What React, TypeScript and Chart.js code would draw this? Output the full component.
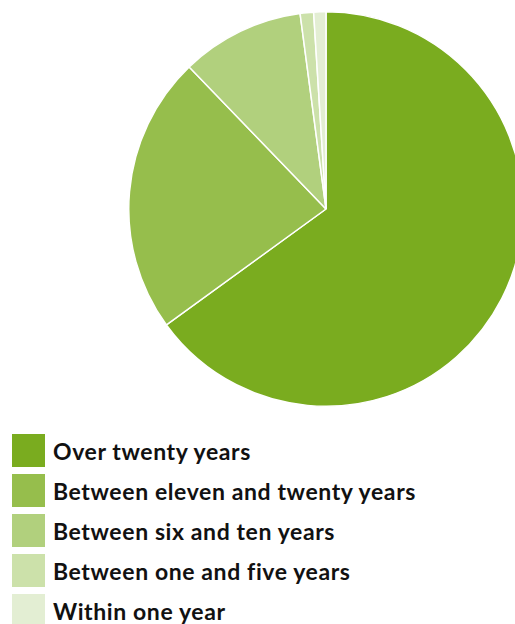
import React, { useEffect, useRef } from "react";
import { Chart, registerables } from "chart.js";

Chart.register(...registerables);

const categories = [
  "Over twenty years",
  "Between eleven and twenty years",
  "Between six and ten years",
  "Between one and five years",
  "Within one year",
];
const shares = [65.0, 22.8, 10.1, 1.1, 1.0];
const colors = ["#7AAC1F", "#96BE4C", "#B1D07D", "#CCE1AA", "#E3EED3"];

export default function App() {
  const ref = useRef<HTMLCanvasElement | null>(null);

  useEffect(() => {
    if (!ref.current) return;
    const chart = new Chart(ref.current, {
      type: "pie",
      data: {
        labels: categories,
        datasets: [
          {
            data: shares,
            backgroundColor: colors,
            borderColor: "#ffffff",
            borderWidth: 1.5,
          },
        ],
      },
      options: {
        animation: false,
        responsive: false,
        maintainAspectRatio: false,
        layout: { padding: 2 },
        plugins: {
          legend: { display: false },
          tooltip: { enabled: false },
        },
      },
    });
    return () => chart.destroy();
  }, []);

  return (
    <div
      style={{
        position: "fixed",
        left: 0,
        top: 0,
        width: 515,
        height: 624,
        overflow: "hidden",
        background: "#ffffff",
      }}
    >
      <canvas
        ref={ref}
        width={400}
        height={400}
        style={{ position: "absolute", left: 126, top: 8.5, width: 400, height: 400 }}
      />
      {categories.map((c, i) => (
        <div
          key={c}
          style={{
            position: "absolute",
            left: 12,
            top: 434 + i * 40,
            height: 33,
            display: "flex",
            alignItems: "center",
            whiteSpace: "nowrap",
          }}
        >
          <div style={{ width: 33, height: 33, background: colors[i], flex: "none" }} />
          <span
            style={{
              marginLeft: 8,
              fontFamily: "Lato, sans-serif",
              fontWeight: 700,
              fontSize: 23,
              letterSpacing: 0.6,
              color: "#111111",
            }}
          >
            {c}
          </span>
        </div>
      ))}
    </div>
  );
}
